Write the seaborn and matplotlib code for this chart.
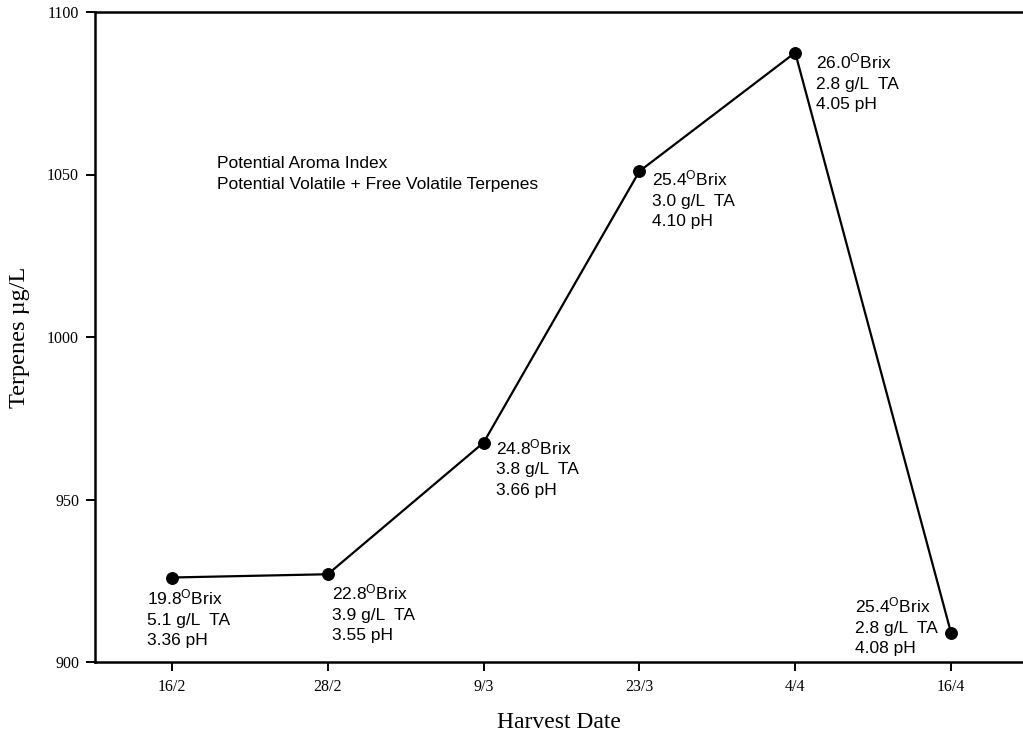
import matplotlib
matplotlib.use("Agg")
import matplotlib.pyplot as plt
import seaborn as sns
import pandas as pd

# Harvest data
harvest_dates = ["16/2", "28/2", "9/3", "23/3", "4/4", "16/4"]
terpenes = [926, 927, 967.5, 1051, 1087.5, 909]
brix = ["19.8", "22.8", "24.8", "25.4", "26.0", "25.4"]
acidity = ["5.1", "3.9", "3.8", "3.0", "2.8", "2.8"]
ph = ["3.36", "3.55", "3.66", "4.10", "4.05", "4.08"]

# label placement (offset from each point, in points)
label_offsets = [(-18, -7), (3, -6), (9, 4), (9, 2), (15, 1), (-69, 27)]

sns.set_theme(style="white")
plt.rcParams["mathtext.fontset"] = "custom"
plt.rcParams["mathtext.rm"] = "Liberation Sans"
plt.rcParams["mathtext.it"] = "Liberation Sans"

df = pd.DataFrame({
    "pos": range(len(harvest_dates)),
    "date": harvest_dates,
    "terpenes": terpenes,
})

fig = plt.figure(figsize=(10.23, 7.36), dpi=100)
ax = fig.add_axes([95 / 1023, 74 / 736, (1023 - 95) / 1023, 650 / 736])

sns.lineplot(data=df, x="pos", y="terpenes", sort=False, ax=ax,
             color="black", linewidth=1.6, marker="o", markersize=8.5,
             markeredgecolor="black", markerfacecolor="black")

ax.set_xlim(-0.494, 5.462)
ax.set_ylim(900, 1100)
ax.set_xticks(df["pos"])
ax.set_xticklabels(harvest_dates)
ax.set_yticks([900, 950, 1000, 1050, 1100])

serif = ["Liberation Serif", "DejaVu Serif"]
sans = ["Liberation Sans", "DejaVu Sans"]

for lbl in ax.get_xticklabels() + ax.get_yticklabels():
    lbl.set_fontfamily(serif)
    lbl.set_fontsize(11.5)
    lbl.set_color("black")

ax.tick_params(axis="both", which="major", direction="out", length=6.5,
               width=1.4, color="black", bottom=True, left=True)
ax.tick_params(axis="y", pad=5)
ax.tick_params(axis="x", pad=6)

for side in ["left", "bottom", "top"]:
    ax.spines[side].set_visible(True)
    ax.spines[side].set_color("black")
    ax.spines[side].set_linewidth(1.8)
ax.spines["right"].set_visible(False)

ax.set_xlabel("Harvest Date", fontfamily=serif, fontsize=17, color="black",
              labelpad=12)
ax.set_ylabel("Terpenes µg/L", fontfamily=serif, fontsize=17.5, color="black",
              labelpad=12)

for x, y, b, ta, p, (dx, dy) in zip(df["pos"], terpenes, brix, acidity, ph,
                                    label_offsets):
    txt = b + r"$^{\mathrm{O}}$" + "Brix\n" + ta + " g/L  TA\n" + p + " pH"
    ax.annotate(txt, xy=(x, y), xytext=(dx, dy), textcoords="offset points",
                ha="left", va="top", fontsize=12.5, fontfamily=sans,
                color="black", linespacing=1.45)

ax.text(0.29, 1050.2,
        "Potential Aroma Index\nPotential Volatile + Free Volatile Terpenes",
        ha="left", va="center", fontsize=12.5, fontfamily=sans, color="black",
        linespacing=1.45)

fig.savefig("out.png", dpi=100)
